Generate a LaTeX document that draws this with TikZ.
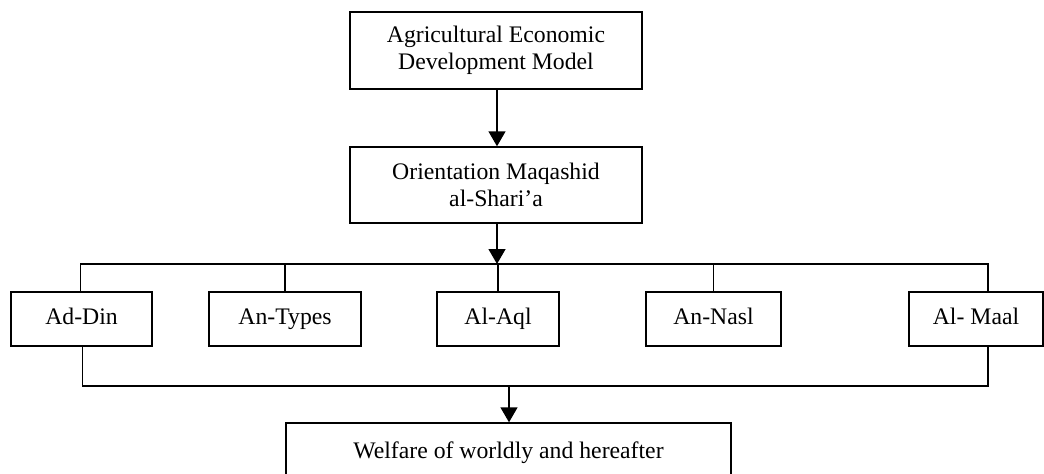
\documentclass[tikz,border=0pt]{standalone}
\usepackage{fontspec}
\setmainfont{Liberation Serif}
\usetikzlibrary{arrows.meta}
\begin{document}
\begin{tikzpicture}[
	box/.style={draw, line width=.8pt, align=center, inner sep=0pt, font=\fontsize{13.5}{15.5}\selectfont},
	item/.style={box, minimum height=1.08cm, text height=10pt, text depth=3.2pt},
	link/.style={line width=.8pt},
	arr/.style={line width=.8pt, -{Triangle[length=.3cm, width=.34cm]}}]
	\useasboundingbox (0,0) rectangle (20.88,9.46);
	\clip (0,0) rectangle (20.88,9.46);
	
	\node[box, minimum width=5.84cm, minimum height=1.54cm] (agri) at (9.92,8.45) {Agricultural Economic\\Development Model};
	\node[box, minimum width=5.84cm, minimum height=1.52cm] (orient) at (9.92,5.76) {Orientation Maqashid\\al-Shari'a};
	
	\node[item, minimum width=2.82cm] (din) at (1.63,3.08) {Ad-Din};
	\node[item, minimum width=3.04cm] (types) at (5.70,3.08) {An-Types};
	\node[item, minimum width=2.44cm] (aql) at (9.96,3.08) {Al-Aql};
	\node[item, minimum width=2.70cm] (nasl) at (14.27,3.08) {An-Nasl};
	\node[item, minimum width=2.68cm] (maal) at (19.52,3.08) {Al- Maal};
	
	\node[item, minimum width=8.9cm, minimum height=1.2cm] (welfare) at (10.17,.40) {Welfare of worldly and hereafter};
	
	\coordinate (top) at (9.94,4.18);
	\coordinate (bottom) at (10.18,1.74);
	
	\draw[arr] (agri.south -| top) -- (orient.north -| top);
	\draw[arr] (orient.south -| top) -- (top);
	
	\draw[link] ([xshift=-.02cm]din.north) |- (top);
	\draw[link] (top) -| ([xshift=.24cm]maal.north);
	\draw[link] (types.north) -- (types.north |- top);
	\draw[link] (aql.north) -- (aql.north |- top);
	\draw[link] (nasl.north) -- (nasl.north |- top);
	
	\draw[link] ([xshift=.02cm]din.south) |- (bottom);
	\draw[link] (bottom) -| ([xshift=.24cm]maal.south);
	\draw[arr] (bottom) -- (welfare.north -| bottom);
\end{tikzpicture}
\end{document}
